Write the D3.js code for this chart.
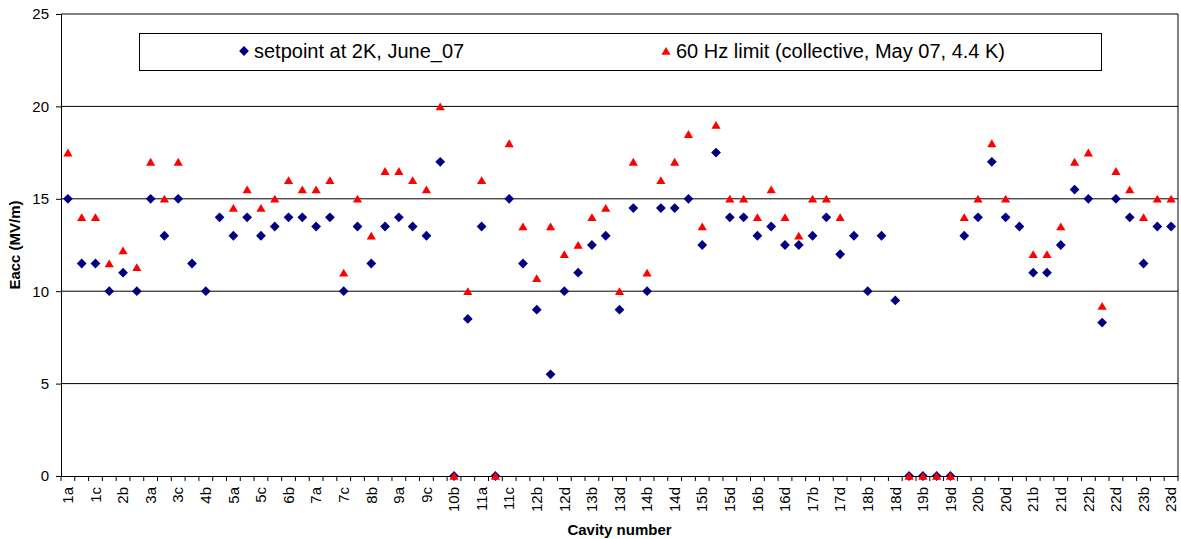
<!DOCTYPE html>
<html>
<head>
<meta charset="utf-8">
<title>Cavity gradients</title>
<script src="https://cdnjs.cloudflare.com/ajax/libs/d3/7.8.5/d3.min.js"></script>
<style>
body { margin: 0; background: #fff; }
svg { display: block; font-family: "Liberation Sans", Arial, sans-serif; }
.grid line { stroke: #000; stroke-width: 1; }
.axis path, .axis line { stroke: #000; }
.axis text { font-family: "Liberation Sans", Arial, sans-serif; font-size: 15px; fill: #000; }
.title { font-size: 15px; font-weight: bold; }
</style>
</head>
<body>
<svg id="chart"></svg>
<script>
var cavities = [
  "1a","1b","1c","2a","2b","2c","3a","3b","3c","4a","4b","4c",
  "5a","5b","5c","6a","6b","6c","7a","7b","7c","8a","8b","8c",
  "9a","9b","9c","10a","10b","10c","11a","11b","11c",
  "12a","12b","12c","12d","13a","13b","13c","13d","14a","14b","14c","14d",
  "15a","15b","15c","15d","16a","16b","16c","16d","17a","17b","17c","17d",
  "18a","18b","18c","18d","19a","19b","19c","19d","20a","20b","20c","20d",
  "21a","21b","21c","21d","22a","22b","22c","22d","23a","23b","23c","23d"
];

// setpoint at 2K, June_07
var setpoint = [
  15, 11.5, 11.5, 10, 11, 10, 15, 13, 15, 11.5, 10, 14,
  13, 14, 13, 13.5, 14, 14, 13.5, 14, 10, 13.5, 11.5, 13.5,
  14, 13.5, 13, 17, 0, 8.5, 13.5, 0, 15,
  11.5, 9, 5.5, 10, 11, 12.5, 13, 9, 14.5, 10, 14.5, 14.5,
  15, 12.5, 17.5, 14, 14, 13, 13.5, 12.5, 12.5, 13, 14, 12,
  13, 10, 13, 9.5, 0, 0, 0, 0, 13, 14, 17, 14,
  13.5, 11, 11, 12.5, 15.5, 15, 8.3, 15, 14, 11.5, 13.5, 13.5
];

// 60 Hz limit (collective, May 07, 4.4 K), null = not measured
var limit60 = [
  17.5, 14, 14, 11.5, 12.2, 11.3, 17, 15, 17, null, null, null,
  14.5, 15.5, 14.5, 15, 16, 15.5, 15.5, 16, 11, 15, 13, 16.5,
  16.5, 16, 15.5, 20, 0, 10, 16, 0, 18,
  13.5, 10.7, 13.5, 12, 12.5, 14, 14.5, 10, 17, 11, 16, 17,
  18.5, 13.5, 19, 15, 15, 14, 15.5, 14, 13, 15, 15, 14,
  null, null, null, null, 0, 0, 0, 0, 14, 15, 18, 15,
  null, 12, 12, 13.5, 17, 17.5, 9.2, 16.5, 15.5, 14, 15, 15
];

var yTicks = [0, 5, 10, 15, 20, 25];

var seriesNames = ["setpoint at 2K, June_07", "60 Hz limit (collective, May 07, 4.4 K)"];

var W = 1181, H = 539;
var plotLeft = 61, plotRight = 1178, plotTop = 14, plotBottom = 476;

var svg = d3.select("#chart").attr("width", W).attr("height", H);
svg.append("rect").attr("width", W).attr("height", H).attr("fill", "#fff");

var x = d3.scaleBand().domain(cavities).range([plotLeft, plotRight]).padding(0);
var y = d3.scaleLinear().domain([0, 25]).range([plotBottom, plotTop]);

// horizontal gridlines
svg.append("g").attr("class", "grid")
  .selectAll("line")
  .data(yTicks.filter(function(d) { return d > 0; }))
  .enter().append("line")
  .attr("x1", plotLeft).attr("x2", plotRight)
  .attr("y1", function(d) { return y(d); })
  .attr("y2", function(d) { return y(d); });

// plot area border (right side)
svg.append("line")
  .attr("x1", plotRight).attr("x2", plotRight)
  .attr("y1", plotTop).attr("y2", plotBottom)
  .attr("stroke", "#000");

// y axis
svg.append("g")
  .attr("class", "axis")
  .attr("transform", "translate(" + plotLeft + ",0)")
  .call(d3.axisLeft(y).tickValues(yTicks).tickSize(5).tickPadding(7).tickSizeOuter(0));

// x axis: labels on every other cavity, tick marks between categories
var xAxis = svg.append("g")
  .attr("class", "axis")
  .attr("transform", "translate(0," + plotBottom + ")")
  .call(d3.axisBottom(x)
    .tickValues(cavities.filter(function(d, i) { return i % 2 === 0; }))
    .tickSize(0).tickSizeOuter(0));

xAxis.selectAll(".tick text")
  .attr("transform", "rotate(-90)")
  .attr("text-anchor", "end")
  .attr("x", -11)
  .attr("y", 0)
  .attr("dy", "0.35em");

xAxis.selectAll(".boundary")
  .data(cavities.concat(["_end"]))
  .enter().append("line")
  .attr("class", "boundary")
  .attr("x1", function(d) { return d === "_end" ? plotRight : x(d); })
  .attr("x2", function(d) { return d === "_end" ? plotRight : x(d); })
  .attr("y1", 0).attr("y2", 5)
  .attr("stroke", "#000");

// markers
var diamond = d3.symbol().type(d3.symbolSquare).size(48);
var triangle = "M0,-4L4.6,3.8L-4.6,3.8Z";

svg.append("g")
  .selectAll("path")
  .data(setpoint)
  .enter().append("path")
  .attr("d", diamond)
  .attr("fill", "#000080")
  .attr("transform", function(d, i) {
    return "translate(" + (x(cavities[i]) + x.bandwidth() / 2) + "," + y(d) + ") rotate(45)";
  });

svg.append("g")
  .selectAll("path")
  .data(limit60.map(function(v, i) { return { c: cavities[i], v: v }; })
    .filter(function(d) { return d.v !== null; }))
  .enter().append("path")
  .attr("d", triangle)
  .attr("fill", "#ff0000")
  .attr("transform", function(d) {
    return "translate(" + (x(d.c) + x.bandwidth() / 2) + "," + y(d.v) + ")";
  });

// legend
var legend = svg.append("g");
legend.append("rect")
  .attr("x", 139.5).attr("y", 33.5)
  .attr("width", 962).attr("height", 37)
  .attr("fill", "#fff").attr("stroke", "#000");

legend.append("path")
  .attr("d", diamond)
  .attr("fill", "#000080")
  .attr("transform", "translate(244,51) rotate(45)");
legend.append("text")
  .attr("x", 254).attr("y", 51).attr("dy", "0.35em")
  .style("font-size", "20px")
  .text(seriesNames[0]);

legend.append("path")
  .attr("d", triangle)
  .attr("fill", "#ff0000")
  .attr("transform", "translate(666,51)");
legend.append("text")
  .attr("x", 676).attr("y", 51).attr("dy", "0.35em")
  .style("font-size", "20px")
  .text(seriesNames[1]);

// axis titles
svg.append("text")
  .attr("class", "title")
  .attr("x", (plotLeft + plotRight) / 2).attr("y", 535)
  .attr("text-anchor", "middle")
  .text("Cavity number");

svg.append("text")
  .attr("class", "title")
  .attr("transform", "translate(20," + ((plotTop + plotBottom) / 2) + ") rotate(-90)")
  .attr("text-anchor", "middle")
  .text("Eacc (MV/m)");
</script>
</body>
</html>
